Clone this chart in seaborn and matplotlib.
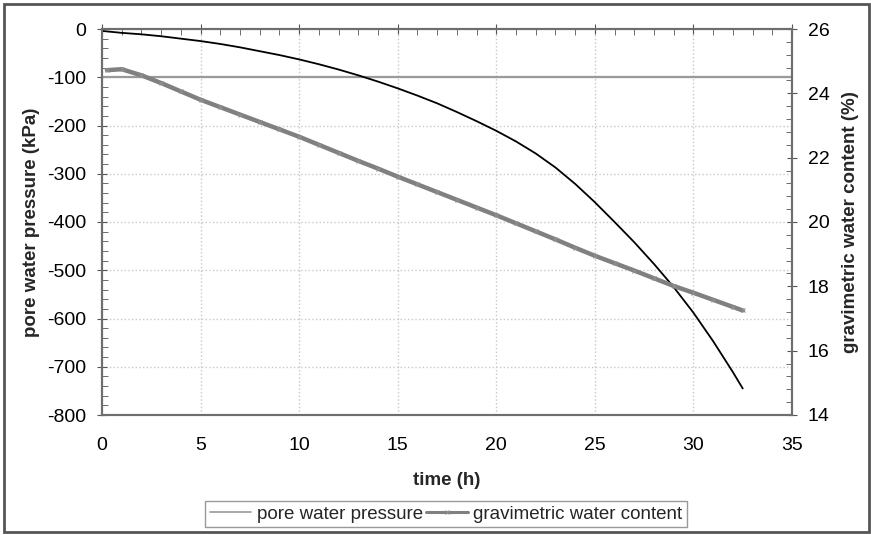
import pandas as pd
import seaborn as sns
import matplotlib.pyplot as plt
from matplotlib.lines import Line2D
from matplotlib.patches import Rectangle
from matplotlib.ticker import MultipleLocator

# pore water pressure (kPa) vs time (h)
time_pwp = [0, 1, 2, 3, 4, 5, 6, 7, 8, 9, 10, 11, 12, 13, 14, 15, 16, 17,
            18, 19, 20, 21, 22, 23, 24, 25, 26, 27, 28, 29, 30, 31, 32, 32.5]
pwp_kpa = [-4, -8, -11, -15, -20, -25, -31, -38, -46, -54, -63, -73, -84,
           -96, -109, -123, -138, -154, -172, -191, -211, -233, -258, -287,
           -321, -359, -400, -442, -487, -535, -588, -647, -711, -745]

# gravimetric water content (%) vs time (h)
time_gwc = [0.25, 1, 2, 3, 4, 5, 6, 7, 8, 9, 10, 11, 12, 13, 14, 15, 16, 17,
            18, 19, 20, 21, 22, 23, 24, 25, 26, 27, 28, 29, 30, 31, 32, 32.5]
gwc_pct = [24.72, 24.75, 24.56, 24.32, 24.06, 23.80, 23.57, 23.34, 23.11,
           22.88, 22.65, 22.40, 22.15, 21.90, 21.66, 21.41, 21.17, 20.93,
           20.69, 20.45, 20.21, 19.96, 19.71, 19.46, 19.20, 18.95, 18.72,
           18.49, 18.25, 18.01, 17.80, 17.58, 17.36, 17.25]

ref_pressure = -100
legend_labels = ["pore water pressure", "gravimetric water content"]

sns.set_style("white")
plt.rcParams["font.family"] = ["Liberation Sans", "DejaVu Sans"]
plt.rcParams["axes.unicode_minus"] = False

fig = plt.figure(figsize=(8.71, 5.35), dpi=100)
ax = fig.add_axes([102 / 871, 1 - 415 / 535, 690 / 871, 386 / 535])
ax2 = ax.twinx()

pwp = pd.DataFrame({"time": time_pwp, "pressure": pwp_kpa})
gwc = pd.DataFrame({"time": time_gwc, "content": gwc_pct})

ax.axhline(ref_pressure, color="#9a9a9a", lw=1.6, zorder=2)
sns.lineplot(data=pwp, x="time", y="pressure", ax=ax, color="black",
             lw=1.3, zorder=3)
sns.lineplot(data=gwc, x="time", y="content", ax=ax2, color="#808080",
             lw=3.2, marker="x", markersize=3.5, markeredgewidth=0.8,
             markeredgecolor="#8f8f8f", zorder=3)

ax.set_xlim(0, 35)
ax.set_ylim(-800, 0)
ax2.set_ylim(14, 26)
ax.xaxis.set_major_locator(MultipleLocator(5))
ax.xaxis.set_minor_locator(MultipleLocator(1))
ax.yaxis.set_major_locator(MultipleLocator(100))
ax.yaxis.set_minor_locator(MultipleLocator(20))
ax2.yaxis.set_major_locator(MultipleLocator(2))
ax2.yaxis.set_minor_locator(MultipleLocator(0.4))

tick_col = "#555555"
ax.tick_params(axis="x", which="both", bottom=False, top=True,
               labelbottom=True, labeltop=False, colors=tick_col,
               labelcolor="black", labelsize=14)
ax.tick_params(axis="x", which="major", direction="inout", length=7, pad=12)
ax.tick_params(axis="x", which="minor", direction="in", length=4)
ax.tick_params(axis="y", which="both", left=True, right=False,
               colors=tick_col, labelcolor="black", labelsize=14)
ax.tick_params(axis="y", which="major", direction="inout", length=7, pad=8)
ax.tick_params(axis="y", which="minor", direction="in", length=4)
ax2.tick_params(axis="y", which="both", right=True, left=False,
                colors=tick_col, labelcolor="black", labelsize=14)
ax2.tick_params(axis="y", which="major", direction="inout", length=7, pad=8)
ax2.tick_params(axis="y", which="minor", direction="in", length=4)

ax.grid(True, which="major", color="#c8c8c8", linestyle=":", linewidth=1)
ax2.grid(False)
for a in (ax, ax2):
    for sp in a.spines.values():
        sp.set_color("#6e6e6e")
        sp.set_linewidth(1.5)

label_kw = dict(fontsize=13.5, fontweight="bold")
ax.set_xlabel("time (h)", labelpad=13, **label_kw)
ax.set_ylabel("pore water pressure (kPa)", labelpad=5, **label_kw)
ax2.set_ylabel("gravimetric water content (%)", labelpad=9, **label_kw)

handles = [
    Line2D([], [], color="#9a9a9a", lw=1.2),
    Line2D([], [], color="#808080", lw=2.2, marker="x", markersize=3,
           markeredgewidth=0.8, markeredgecolor="#8f8f8f"),
]
fig.legend(handles, legend_labels, loc="center",
           bbox_to_anchor=(446 / 871, 1 - 514 / 535), ncol=2, frameon=True,
           fancybox=False, edgecolor="#999999", fontsize=13.5,
           handlelength=2.2, handletextpad=0.3, columnspacing=0.2,
           borderpad=0.25, framealpha=1)

fig.patches.append(Rectangle((4 / 871, 3 / 535), 865 / 871, 528 / 535,
                             transform=fig.transFigure, fill=False,
                             edgecolor="#555555", lw=2))

fig.savefig("out.png", dpi=100)
